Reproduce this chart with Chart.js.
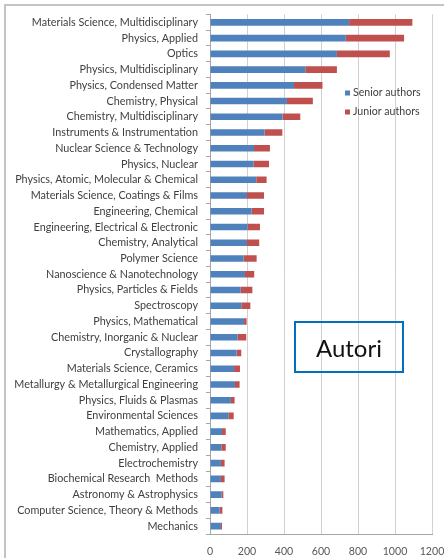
<!DOCTYPE html>
<html>
<head>
<meta charset="utf-8">
<script src="https://cdn.jsdelivr.net/npm/chart.js@4/dist/chart.umd.min.js"></script>
<style>
  html, body { margin: 0; padding: 0; background: #fff; }
  #wrap { position: relative; width: 444px; height: 558px; overflow: hidden; }
  #frame { position: absolute; left: 4px; top: 4px; width: 460px; height: 580px;
           border-top: 2px solid #c4c4c4; border-left: 2px solid #c4c4c4; }
  #note { position: absolute; left: 294px; top: 321px; width: 106px; height: 48px;
          border: 2px solid #0070c0; font-family: Lato, sans-serif; font-size: 24px;
          color: #111; display: flex; align-items: center; justify-content: center; }
  canvas { position: absolute; left: 0; top: 0; }
</style>
</head>
<body>
<div id="wrap">
  <div id="frame"></div>
  <canvas id="authors-chart" width="444" height="558"></canvas>
  <div id="note">Autori</div>
</div>
<script>
const categories = [
    'Materials Science, Multidisciplinary', 'Physics, Applied', 'Optics',
    'Physics, Multidisciplinary', 'Physics, Condensed Matter', 'Chemistry, Physical',
    'Chemistry, Multidisciplinary', 'Instruments & Instrumentation',
    'Nuclear Science & Technology', 'Physics, Nuclear',
    'Physics, Atomic, Molecular & Chemical', 'Materials Science, Coatings & Films',
    'Engineering, Chemical', 'Engineering, Electrical & Electronic',
    'Chemistry, Analytical', 'Polymer Science', 'Nanoscience & Nanotechnology',
    'Physics, Particles & Fields', 'Spectroscopy', 'Physics, Mathematical',
    'Chemistry, Inorganic & Nuclear', 'Crystallography', 'Materials Science, Ceramics',
    'Metallurgy & Metallurgical Engineering', 'Physics, Fluids & Plasmas',
    'Environmental Sciences', 'Mathematics, Applied', 'Chemistry, Applied',
    'Electrochemistry', 'Biochemical Research  Methods', 'Astronomy & Astrophysics',
    'Computer Science, Theory & Methods', 'Mechanics'
];
const seniorAuthors = [752, 734, 686, 515, 454, 416, 392, 295, 238, 236, 250, 200, 225, 203,
    200, 182, 189, 166, 169, 184, 149, 144, 130, 135, 113, 99, 65, 61, 59, 59, 63, 52, 59];
const juniorAuthors = [342, 315, 286, 171, 154, 140, 96, 96, 86, 83, 56, 92, 67, 67,
    66, 70, 50, 63, 49, 14, 47, 25, 32, 25, 20, 29, 20, 24, 20, 20, 9, 15, 6];
const xTicks = [0, 200, 400, 600, 800, 1000, 1200];

// legend drawn over the plot, like the original
const legendInPlot = {
    id: 'legendInPlot',
    afterDraw(chart) {
        const ctx = chart.ctx;
        ctx.save();
        ctx.font = '10.6px Lato, sans-serif';
        ctx.textBaseline = 'middle';
        chart.data.datasets.forEach((ds, i) => {
            const y = 93 + i * 19;
            ctx.fillStyle = ds.backgroundColor;
            ctx.fillRect(345, y - 2.5, 5, 5);
            ctx.fillStyle = '#404040';
            ctx.fillText(ds.label, 353, y);
        });
        ctx.restore();
    }
};

new Chart(document.getElementById('authors-chart').getContext('2d'), {
    type: 'bar',
    data: {
        labels: categories,
        datasets: [{
            label: 'Senior authors',
            data: seniorAuthors,
            backgroundColor: '#4f81bd',
            barPercentage: 0.42,
            categoryPercentage: 1
        }, {
            label: 'Junior authors',
            data: juniorAuthors,
            backgroundColor: '#c0504d',
            barPercentage: 0.42,
            categoryPercentage: 1
        }]
    },
    options: {
        indexAxis: 'y',
        responsive: false,
        animation: false,
        layout: { padding: { top: 12, right: 12, left: 0, bottom: 0 } },
        plugins: {
            legend: { display: false },
            tooltip: { enabled: false }
        },
        scales: {
            x: {
                stacked: true,
                min: 0,
                max: 1200,
                afterBuildTicks: (scale) => { scale.ticks = xTicks.map(v => ({ value: v })); },
                afterFit: (scale) => {
                    scale.height = 24;
                    // ticks.padding gets added to the side padding, drop it
                    scale.paddingLeft = 0;
                    scale.paddingRight = 0;
                },
                ticks: {
                    color: '#595959',
                    font: { family: 'Lato, sans-serif', size: 10.6 },
                    padding: 11,
                    maxRotation: 0,
                    callback: (v) => String(v)
                },
                grid: {
                    color: '#d0d0d0',
                    drawTicks: false
                },
                border: { color: '#a6a6a6' }
            },
            y: {
                stacked: true,
                afterFit: (scale) => { scale.width = 210; },
                ticks: {
                    color: '#404040',
                    font: { family: 'Lato, sans-serif', size: 10.8 },
                    padding: 8,
                    autoSkip: false
                },
                grid: {
                    drawOnChartArea: false,
                    drawTicks: true,
                    tickLength: 4,
                    color: '#a6a6a6'
                },
                border: { color: '#a6a6a6' }
            }
        }
    },
    plugins: [legendInPlot]
});
</script>
</body>
</html>
